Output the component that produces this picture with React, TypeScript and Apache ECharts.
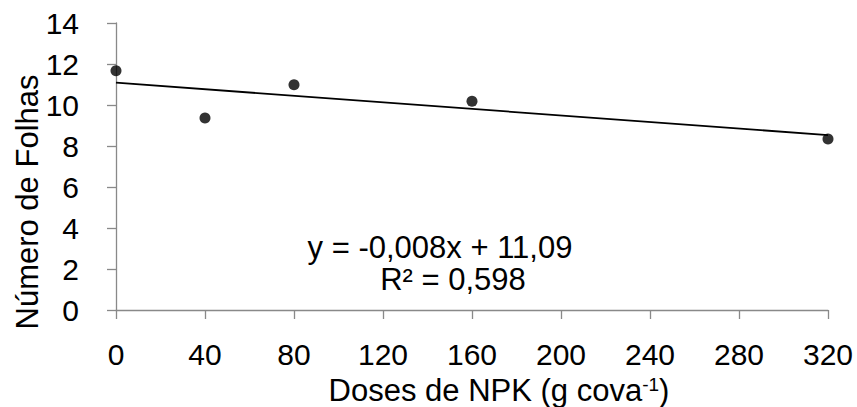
import React, { useEffect, useRef } from "react";
import * as echarts from "echarts";

const doses = [0, 40, 80, 160, 320];
const folhas = [11.67, 9.37, 10.99, 10.18, 8.34];
const trendSlope = -0.008;
const trendIntercept = 11.09;
const trendX = [0, 320];
const equationLines = ["y = -0,008x + 11,09", "R² = 0,598"];
const xTitle = "Doses de NPK (g cova";
const yTitle = "Número de Folhas";

const FONT = "'Liberation Sans', Arial, sans-serif";

export default function App() {
  const ref = useRef<HTMLDivElement>(null);
  useEffect(() => {
    if (!ref.current) return;
    const chart = echarts.init(ref.current, null, { renderer: "svg" });
    const axisColor = "#898989";
    const trendData = trendX.map((x) => [x, +(trendIntercept + trendSlope * x).toFixed(3)]);
    chart.setOption({
      animation: false,
      backgroundColor: "#ffffff",
      grid: { left: 116, right: 29, top: 23, bottom: 97, containLabel: false },
      xAxis: {
        type: "value",
        min: 0,
        max: 320,
        interval: 40,
        splitLine: { show: false },
        axisLine: { show: true, onZero: false, lineStyle: { color: axisColor, width: 1.3 } },
        axisTick: { show: true, inside: false, length: 9, lineStyle: { color: axisColor, width: 1.3 } },
        axisLabel: { color: "#000", fontSize: 30, fontFamily: FONT, margin: 29 },
      },
      yAxis: {
        type: "value",
        min: 0,
        max: 14,
        interval: 2,
        splitLine: { show: false },
        axisLine: { show: true, onZero: false, lineStyle: { color: axisColor, width: 1.3 } },
        axisTick: { show: true, inside: false, length: 9, lineStyle: { color: axisColor, width: 1.3 } },
        axisLabel: { color: "#000", fontSize: 30, fontFamily: FONT, margin: 37 },
      },
      series: [
        {
          type: "line",
          data: trendData,
          symbol: "none",
          lineStyle: { color: "#000", width: 1.8 },
          z: 2,
        },
        {
          type: "scatter",
          data: doses.map((d, i) => [d, folhas[i]]),
          symbol: "circle",
          symbolSize: 11,
          itemStyle: { color: "#000" },
          z: 3,
        },
      ],
      graphic: [
        {
          type: "text",
          x: 440,
          y: 263,
          style: {
            text: equationLines[0],
            font: `31px ${FONT}`,
            fill: "#000",
            textAlign: "center",
            textVerticalAlign: "bottom",
          },
        },
        {
          type: "text",
          x: 453,
          y: 295,
          style: {
            text: equationLines[1],
            font: `31px ${FONT}`,
            fill: "#000",
            textAlign: "center",
            textVerticalAlign: "bottom",
          },
        },
        {
          type: "text",
          x: 499,
          y: 406,
          style: {
            text: `${xTitle}{sup|-1})`,
            rich: {
              sup: { fontSize: 19, fontFamily: FONT, fill: "#000", verticalAlign: "top", padding: [0, 0, 10, 0] },
            },
            font: `31px ${FONT}`,
            fill: "#000",
            textAlign: "center",
            textVerticalAlign: "bottom",
          },
        },
        {
          type: "text",
          x: 27,
          y: 202,
          rotation: Math.PI / 2,
          style: {
            text: yTitle,
            font: `31px ${FONT}`,
            fill: "#000",
            textAlign: "center",
            textVerticalAlign: "middle",
          },
        },
      ],
    });
    return () => chart.dispose();
  }, []);
  return (
    <div
      ref={ref}
      style={{ position: "fixed", left: 0, top: 0, width: 857, height: 407, background: "#fff" }}
    />
  );
}
